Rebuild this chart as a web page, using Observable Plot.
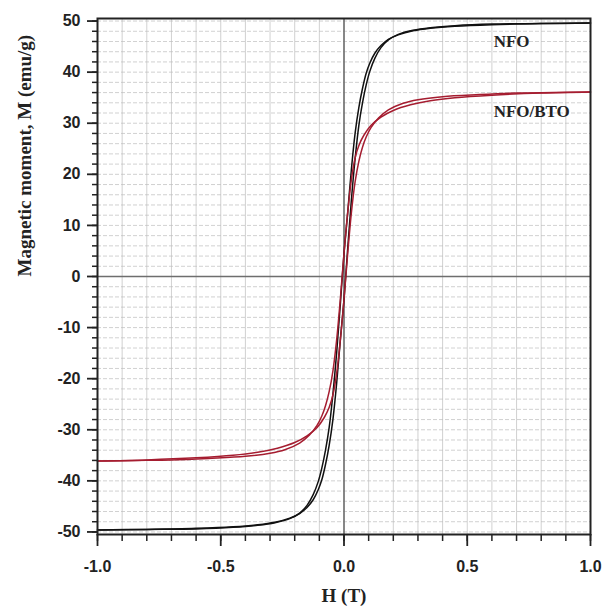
<!DOCTYPE html>
<html>
<head>
<meta charset="utf-8">
<script src="https://cdn.jsdelivr.net/npm/d3@7"></script>
<script src="https://cdn.jsdelivr.net/npm/@observablehq/plot@0.6"></script>
<style>
  html, body { margin: 0; padding: 0; background: #fff; }
  #chart svg { display: block; }
</style>
</head>
<body>
<div id="chart"></div>
<script>
// ---- Data ----
// NFO, ascending branch (H from -1 to +1)
const nfoAscH = [-1.0,-0.8,-0.6,-0.45,-0.35,-0.28,-0.22,-0.18,-0.15,-0.125,-0.105,-0.09,-0.075,-0.06,-0.045,-0.03,-0.015,0.0,0.015,0.03,0.045,0.06,0.075,0.09,0.105,0.125,0.15,0.18,0.22,0.28,0.35,0.45,0.6,0.8,1.0];
const nfoAscM = [-49.6,-49.5,-49.3,-49.0,-48.6,-48.1,-47.3,-46.4,-45.2,-43.7,-41.8,-39.8,-36.8,-33.0,-28.0,-21.0,-12.5,-4.5,5.5,15.0,23.0,29.5,34.0,37.5,40.2,42.7,44.8,46.3,47.4,48.2,48.7,49.1,49.4,49.5,49.6];
// NFO, descending branch (H from +1 to -1)
const nfoDescH = [1.0,0.8,0.6,0.45,0.35,0.28,0.22,0.18,0.15,0.125,0.105,0.09,0.075,0.06,0.045,0.03,0.015,0.0,-0.015,-0.03,-0.045,-0.06,-0.075,-0.09,-0.105,-0.125,-0.15,-0.18,-0.22,-0.28,-0.35,-0.45,-0.6,-0.8,-1.0];
const nfoDescM = [49.6,49.5,49.3,49.0,48.6,48.1,47.3,46.4,45.2,43.7,41.8,39.8,36.8,33.0,28.0,21.0,12.5,4.5,-5.5,-15.0,-23.0,-29.5,-34.0,-37.5,-40.2,-42.7,-44.8,-46.3,-47.4,-48.2,-48.7,-49.1,-49.4,-49.5,-49.6];
// NFO/BTO, ascending branch
const nbAscH = [-1.0,-0.8,-0.6,-0.45,-0.35,-0.27,-0.2,-0.15,-0.11,-0.08,-0.06,-0.045,-0.03,-0.015,0.0,0.015,0.03,0.045,0.06,0.075,0.09,0.11,0.14,0.18,0.24,0.3,0.4,0.55,0.7,0.85,1.0];
const nbAscM = [-36.1,-35.9,-35.5,-35.0,-34.4,-33.6,-32.5,-31.2,-29.6,-27.6,-25.6,-23.2,-19.0,-12.5,-4.5,4.5,12.5,18.5,22.5,25.3,27.3,29.2,31.0,32.6,33.9,34.6,35.2,35.6,35.9,36.0,36.1];
// NFO/BTO, descending branch
const nbDescH = [1.0,0.8,0.6,0.45,0.35,0.27,0.2,0.15,0.11,0.08,0.06,0.045,0.03,0.015,0.0,-0.015,-0.03,-0.045,-0.06,-0.075,-0.09,-0.11,-0.14,-0.18,-0.24,-0.3,-0.4,-0.55,-0.7,-0.85,-1.0];
const nbDescM = [36.1,35.9,35.5,35.0,34.4,33.6,32.5,31.2,29.6,27.6,25.6,23.2,19.0,12.5,4.5,-4.5,-12.5,-18.5,-22.5,-25.3,-27.3,-29.2,-31.0,-32.6,-33.9,-34.6,-35.2,-35.6,-35.9,-36.0,-36.1];

// Ticks
const xMajor = [-1.0, -0.5, 0.0, 0.5, 1.0];
const xMinor = [-1.0,-0.9,-0.8,-0.7,-0.6,-0.5,-0.4,-0.3,-0.2,-0.1,0.0,0.1,0.2,0.3,0.4,0.5,0.6,0.7,0.8,0.9,1.0];
const yMajor = [-50,-40,-30,-20,-10,0,10,20,30,40,50];
const yMinor = [-50,-48,-46,-44,-42,-40,-38,-36,-34,-32,-30,-28,-26,-24,-22,-20,-18,-16,-14,-12,-10,-8,-6,-4,-2,0,2,4,6,8,10,12,14,16,18,20,22,24,26,28,30,32,34,36,38,40,42,44,46,48,50];

const seriesNames = ["NFO", "NFO/BTO"];
const xTitle = "H (T)";
const yTitle = "Magnetic moment, M (emu/g)";

function branch(hs, ms, series, id) {
  return hs.map((h, i) => ({H: h, M: ms[i], series, id}));
}
const nfo = [...branch(nfoAscH, nfoAscM, "NFO", "a"), ...branch(nfoDescH, nfoDescM, "NFO", "d")];
const nb = [...branch(nbAscH, nbAscM, "NFO/BTO", "a"), ...branch(nbDescH, nbDescM, "NFO/BTO", "d")];

const serif = "'Liberation Serif', 'Times New Roman', serif";
const sans = "'Liberation Sans', Arial, sans-serif";

const chart = Plot.plot({
  width: 603,
  height: 608,
  marginLeft: 97,
  marginRight: 13,
  marginTop: 18,
  marginBottom: 74,
  style: {fontFamily: sans, fontWeight: "bold", fontSize: "16px", color: "#222", background: "#fff"},
  x: {domain: [-1, 1], label: null},
  y: {domain: [-50.5, 50.5], label: null},
  marks: [
    Plot.gridX(xMinor, {stroke: "#bdbdbd", strokeOpacity: 0.7, strokeWidth: 1}),
    Plot.gridY(yMinor, {stroke: "#bdbdbd", strokeOpacity: 0.7, strokeWidth: 1, strokeDasharray: "4,2"}),
    Plot.ruleX([0], {stroke: "#6e6e6e", strokeWidth: 1.6}),
    Plot.ruleY([0], {stroke: "#6e6e6e", strokeWidth: 1.6}),
    Plot.line(nfo, {x: "H", y: "M", z: "id", stroke: "#111", strokeWidth: 1.5, curve: "catmull-rom"}),
    Plot.line(nb, {x: "H", y: "M", z: "id", stroke: "#a51d30", strokeWidth: 1.5, curve: "catmull-rom"}),
    Plot.frame({stroke: "#222", strokeWidth: 2}),
    Plot.axisY(yMinor, {tickSize: 5, text: null, label: null, stroke: "#222", strokeWidth: 1.5}),
    Plot.axisY(yMajor, {tickSize: 10, tickPadding: 7, tickFormat: d => String(d), stroke: "#222", strokeWidth: 1.8, fontSize: 16, fontWeight: "bold", label: null}),
    Plot.axisX(xMinor, {tickSize: 7, text: null, label: null, stroke: "#222", strokeWidth: 1.5}),
    Plot.axisX(xMajor, {tickSize: 12, tickPadding: 14, tickFormat: d => d.toFixed(1), stroke: "#222", strokeWidth: 1.8, fontSize: 16, fontWeight: "bold", label: null}),
    Plot.text([yTitle], {frameAnchor: "left", rotate: -90, dx: -73, fontFamily: serif, fontWeight: "bold", fontSize: 19, fill: "#222"}),
    Plot.text([xTitle], {frameAnchor: "bottom", dy: 67, fontFamily: serif, fontWeight: "bold", fontSize: 19, fill: "#222"}),
    Plot.text([seriesNames[0]], {x: 0.607, y: 46, textAnchor: "start", fontFamily: serif, fontWeight: "bold", fontSize: 17, fill: "#222"}),
    Plot.text([seriesNames[1]], {x: 0.607, y: 32.2, textAnchor: "start", fontFamily: serif, fontWeight: "bold", fontSize: 17, fill: "#222"})
  ]
});
document.getElementById("chart").appendChild(chart);
</script>
</body>
</html>
